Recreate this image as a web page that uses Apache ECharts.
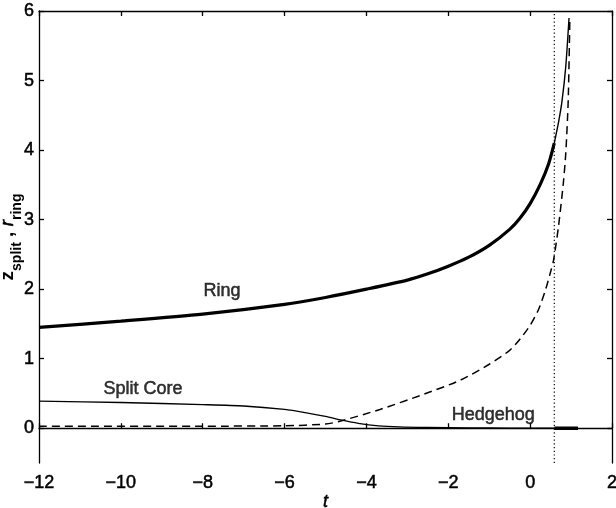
<!DOCTYPE html>
<html>
<head>
<meta charset="utf-8">
<script src="https://cdn.jsdelivr.net/npm/echarts@6/dist/echarts.min.js"></script>
<style>
  html, body { margin: 0; padding: 0; background: #fff; }
  #chart { width: 616px; height: 508px; }
</style>
</head>
<body>
<div id="chart"></div>
<script>
// Ring radius (thick part up to the transition, then thin continuation)
const ringT      = [-12, -10, -8, -6, -5, -4, -3, -2.5, -2, -1.5, -1, -0.5, -0.25, 0, 0.25, 0.45, 0.59];
const ringR      = [1.45, 1.54, 1.64, 1.78, 1.88, 2.0, 2.13, 2.22, 2.33, 2.46, 2.63, 2.86, 3.02, 3.23, 3.51, 3.8, 4.1];
const ringTailT  = [0.59, 0.7, 0.78, 0.87, 0.95];
const ringTailR  = [4.1, 4.42, 4.71, 5.2, 5.9];

// Split-core offset (dashed)
const zSplitT = [-12, -8, -6, -5, -4.65, -3.67, -2.69, -1.71, -1, -0.5, -0.25, 0, 0.2, 0.37, 0.5, 0.57, 0.69, 0.81, 0.87, 0.93, 0.97];
const zSplitV = [0.03, 0.03, 0.035, 0.06, 0.1, 0.27, 0.47, 0.69, 0.92, 1.12, 1.28, 1.48, 1.7, 1.98, 2.25, 2.41, 2.89, 3.52, 3.95, 4.71, 5.9];

// Split core branch (thin solid)
const coreT = [-12, -10, -8, -7, -6, -5.5, -5, -4.6, -4.2, -3.7, -3.2, -2.5, -1.5, -0.5, 0.59];
const coreV = [0.39, 0.37, 0.34, 0.32, 0.27, 0.225, 0.17, 0.115, 0.07, 0.035, 0.02, 0.012, 0.006, 0.002, 0];

// Hedgehog branch (thick, after transition)
const hedgeT = [0.59, 1.17];
const hedgeV = [0, 0];

// Transition time (dotted vertical)
const transitionT = 0.59;

// Axis ranges and ticks
const yTicks = [0, 1, 2, 3, 4, 5, 6];
const yMin = -0.5, yMax = 6;

// Curve annotations
const notes = [
  { name: 'Ring', t: -7.53, v: 1.97 },
  { name: 'Split Core', t: -9.46, v: 0.57 },
  { name: 'Hedgehog', t: -0.9, v: 0.19 }
];

const pairs = (xs, ys) => xs.map((x, i) => [x, ys[i]]);
const fmt = v => String(v).replace('-', '\u2212');
const FONT = '"Liberation Sans", Arial, Helvetica, sans-serif';
const INK = { color: '#000', textBorderColor: '#000', textBorderWidth: 0.5 };

const chart = echarts.init(document.getElementById('chart'), null, { renderer: 'canvas' });

const lineBase = { type: 'line', showSymbol: false, symbol: 'none', silent: true, animation: false, clip: true };

chart.setOption({
  animation: false,
  backgroundColor: '#fff',
  grid: { left: 39, right: 4, top: 11, bottom: 45, containLabel: false, outerBoundsMode: 'none' },
  xAxis: [
    {
      type: 'value', min: -12, max: 2, interval: 2,
      name: 't', nameLocation: 'middle', nameGap: 30, nameMoveOverlap: false,
      nameTextStyle: Object.assign({ fontFamily: FONT, fontSize: 18, fontStyle: 'italic' }, INK),
      axisLine: { lineStyle: { color: '#000', width: 1.3 } },
      axisTick: { inside: true, length: 5, lineStyle: { color: '#000', width: 1.3 } },
      axisLabel: Object.assign({ formatter: fmt, fontFamily: FONT, fontSize: 18, margin: 11 }, INK),
      splitLine: { show: false }
    },
    {
      type: 'value', min: -12, max: 2, interval: 2, position: 'top',
      axisLine: { onZero: false, lineStyle: { color: '#000', width: 1.3 } },
      axisTick: { inside: true, length: 5, lineStyle: { color: '#000', width: 1.3 } },
      axisLabel: { show: false }, splitLine: { show: false }
    }
  ],
  yAxis: [
    {
      type: 'value', min: yMin, max: yMax,
      name: '{z|z}{sub|split}{z| , }{r|r}{sub|ring}',
      nameLocation: 'middle', nameRotate: 90, nameGap: 15, nameMoveOverlap: false,
      nameTextStyle: {
        color: '#000', fontFamily: FONT,
        rich: {
          z:   { fontFamily: FONT, fontSize: 19, fontWeight: 'bold', color: '#000', verticalAlign: 'bottom', padding: [0, 0, 7, 0] },
          r:   Object.assign({ fontFamily: FONT, fontSize: 19, fontStyle: 'italic', verticalAlign: 'bottom', padding: [0, 0, 7, 0] }, INK),
          sub: { fontFamily: FONT, fontSize: 14, fontWeight: 'bold', color: '#000', verticalAlign: 'bottom' }
        }
      },
      axisLine: { onZero: false, lineStyle: { color: '#000', width: 1.3 } },
      axisTick: { inside: true, length: 5, customValues: yTicks, lineStyle: { color: '#000', width: 1.3 } },
      axisLabel: Object.assign({ customValues: yTicks, formatter: fmt, fontFamily: FONT, fontSize: 18, margin: 5 }, INK),
      splitLine: { show: false }
    },
    {
      type: 'value', min: yMin, max: yMax, position: 'right',
      axisLine: { show: true, onZero: false, lineStyle: { color: '#000', width: 1.3 } },
      axisTick: { show: true, inside: true, length: 5, customValues: yTicks, lineStyle: { color: '#000', width: 1.3 } },
      axisLabel: { show: false }, splitLine: { show: false }
    }
  ],
  series: [
    Object.assign({}, lineBase, {
      name: 'Ring', data: pairs(ringT, ringR), smooth: 0.25,
      lineStyle: { color: '#000', width: 3.2 }
    }),
    Object.assign({}, lineBase, {
      name: 'Ring tail', data: pairs(ringTailT, ringTailR), smooth: 0.25,
      lineStyle: { color: '#000', width: 1.4 }
    }),
    Object.assign({}, lineBase, {
      name: 'z_split', data: pairs(zSplitT, zSplitV), smooth: 0.25,
      lineStyle: { color: '#000', width: 1.5, type: [8, 5] }
    }),
    Object.assign({}, lineBase, {
      name: 'Split Core', data: pairs(coreT, coreV), smooth: 0.25,
      lineStyle: { color: '#000', width: 1.3 }
    }),
    Object.assign({}, lineBase, {
      name: 'Hedgehog', data: pairs(hedgeT, hedgeV),
      lineStyle: { color: '#000', width: 3.5 }
    }),
    Object.assign({}, lineBase, {
      name: 'transition', data: [[transitionT, yMin], [transitionT, yMax]],
      lineStyle: { color: '#000', width: 1.2, type: [1.2, 2.5] }
    }),
    {
      type: 'scatter', silent: true, symbolSize: 0, animation: false,
      data: notes.map(n => ({ name: n.name, value: [n.t, n.v] })),
      label: Object.assign({
        show: true, position: 'inside', formatter: p => p.name,
        fontFamily: FONT, fontSize: 18
      }, INK)
    }
  ]
});
</script>
</body>
</html>
